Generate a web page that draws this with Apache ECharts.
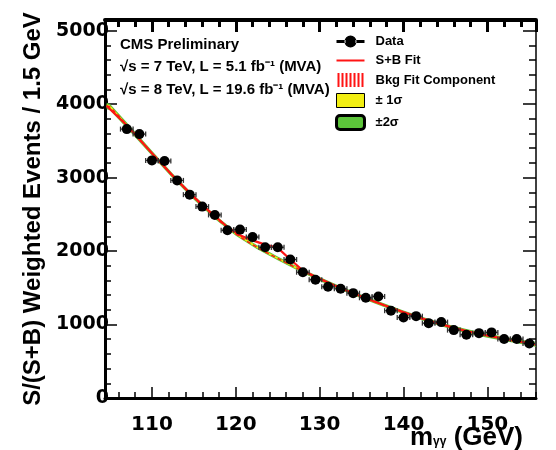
<!DOCTYPE html>
<html>
<head>
<meta charset="utf-8">
<script src="https://cdn.jsdelivr.net/npm/echarts@6/dist/echarts.min.js"></script>
<style>
html,body{margin:0;padding:0;background:#fff;}
#chart{width:556px;height:450px;}
</style>
</head>
<body>
<div id="chart"></div>
<script>
// ---- data ----
const massCenters = [107, 108.5, 110, 111.5, 113, 114.5, 116, 117.5, 119, 120.5, 122, 123.5, 125, 126.5, 128, 129.5, 131, 132.5, 134, 135.5, 137, 138.5, 140, 141.5, 143, 144.5, 146, 147.5, 149, 150.5, 152, 153.5, 155];
const dataEvents = [3660, 3592, 3234, 3226, 2962, 2768, 2605, 2492, 2283, 2292, 2190, 2052, 2052, 1885, 1712, 1610, 1514, 1486, 1427, 1364, 1382, 1188, 1096, 1114, 1019, 1033, 924, 861, 883, 893, 802, 802, 743];
const binHalfWidth = 0.75;

const bkgMass = [104.6, 105, 107.5, 110, 112.5, 115, 117.5, 120, 122.5, 125, 127.5, 130, 132.5, 135, 137.5, 140, 142.5, 145, 147.5, 150, 152.5, 155, 155.8];
const bkgEvents = [3975, 3960, 3650, 3330, 3020, 2730, 2465, 2235, 2055, 1900, 1755, 1620, 1495, 1380, 1270, 1165, 1070, 985, 910, 850, 795, 745, 731];
const band1Half = [22, 21, 19, 17, 16, 15, 14, 14, 13, 13, 13, 13, 13, 13, 13, 13, 13, 13, 14, 14, 15, 16, 17];
const band2Half = [44, 42, 38, 34, 32, 30, 28, 27, 26, 26, 26, 26, 26, 26, 26, 26, 26, 27, 28, 29, 30, 32, 34];

const sbMass = [104.6, 107, 110, 113, 116, 119, 120.5, 122, 123.5, 125, 126.5, 128, 129.5, 132.5, 135.5, 138.5, 141.5, 144.5, 147.5, 150.5, 153.5, 155.8];
const sbEvents = [3975, 3712, 3330, 2962, 2625, 2327, 2215, 2145, 2088, 2043, 1885, 1735, 1650, 1495, 1358, 1228, 1108, 1002, 910, 839, 775, 731];

const xMin = 104.4, xMax = 155.8;
const yMin = 0, yMax = 5145;

const textLines = ['CMS Preliminary', '\u221As = 7 TeV, L = 5.1 fb\u207B\u00B9 (MVA)', '\u221As = 8 TeV, L = 19.6 fb\u207B\u00B9 (MVA)'];
const legendNames = ['Data', 'S+B Fit', 'Bkg Fit Component', '\u00B1 1\u03C3', '\u00B12\u03C3'];
const yTitle = 'S/(S+B) Weighted Events / 1.5 GeV';
const xTitle = '{m|m}{sub|\u03B3\u03B3}{m| (GeV)}';

// ---- chart ----
const RED = '#ff1414', YELLOW = '#f2ee12', GREEN = '#5cc43a';
const NARROW = '"Liberation Sans Narrow", "Liberation Sans", Arial, sans-serif';
const WIDE = '"DejaVu Sans", sans-serif';

const chart = echarts.init(document.getElementById('chart'), null, {renderer: 'canvas'});

function bandSeries(name, halfArr, color, z) {
  return {
    name: name, type: 'custom', z: z, clip: true, silent: true,
    itemStyle: {color: color},
    data: [[bkgMass[0], bkgEvents[0]]],
    renderItem: function (params, api) {
      const up = [], lo = [];
      for (let i = 0; i < bkgMass.length; i++) {
        up.push(api.coord([bkgMass[i], bkgEvents[i] + halfArr[i]]));
        lo.push(api.coord([bkgMass[i], bkgEvents[i] - halfArr[i]]));
      }
      return {type: 'polygon', shape: {points: up.concat(lo.reverse())}, style: {fill: color}};
    }
  };
}

const dataPairs = massCenters.map((m, i) => [m, dataEvents[i]]);

const commonX = {type: 'value', min: xMin, max: xMax, gridIndex: 0};
const commonY = {type: 'value', min: yMin, max: yMax, gridIndex: 0};
const plain = v => String(Math.round(v));

const option = {
  animation: false,
  backgroundColor: '#fff',
  grid: {left: 105, right: 20, top: 20, bottom: 52, containLabel: false, outerBoundsMode: 'none'},
  title: [
    {text: textLines[0], left: 120, top: 37, padding: 0, textStyle: {fontFamily: NARROW, fontSize: 15, fontWeight: 'bold', color: '#000'}},
    {text: textLines[1], left: 120, top: 59, padding: 0, textStyle: {fontFamily: NARROW, fontSize: 15, fontWeight: 'bold', color: '#000'}},
    {text: textLines[2], left: 120, top: 82, padding: 0, textStyle: {fontFamily: NARROW, fontSize: 15, fontWeight: 'bold', color: '#000'}}
  ],
  graphic: [
    {type: 'text', right: 33, top: 425, z: 10, silent: true,
      style: {text: xTitle, fill: '#000',
        rich: {
          m: {fontFamily: NARROW, fontSize: 26, fontWeight: 'bold', fill: '#000', lineHeight: 26},
          sub: {fontFamily: NARROW, fontSize: 12, fontWeight: 'bold', fill: '#000', padding: [8, 0, 0, 0], lineHeight: 26}
        }}}
  ],
  legend: {
    orient: 'vertical', left: 335, top: 35, itemWidth: 28, itemHeight: 14, itemGap: 6, padding: 0,
    selectedMode: false,
    textStyle: {fontFamily: NARROW, fontSize: 13, fontWeight: 'bold', color: '#000', padding: [0, 0, 0, 6]},
    data: [
      {name: legendNames[0], icon: 'path://M0,5.5h9v3h-9z M19,5.5h9v3h-9z M8,7a6,6 0 1,0 12,0a6,6 0 1,0 -12,0z', itemStyle: {color: '#000'}},
      {name: legendNames[1], icon: 'path://M0,0h28v2h-28z', itemStyle: {color: RED}},
      {name: legendNames[2], icon: 'path://M0,0h2v14h-2z M4,0h2v14h-2z M8,0h2v14h-2z M12,0h2v14h-2z M16,0h2v14h-2z M20,0h2v14h-2z M24,0h2v14h-2z', itemStyle: {color: RED}},
      {name: legendNames[3], icon: 'rect', itemStyle: {color: YELLOW, borderColor: '#000', borderWidth: 1}},
      {name: legendNames[4], icon: 'roundRect', itemStyle: {color: GREEN, borderColor: '#000', borderWidth: 3}}
    ]
  },
  xAxis: [
    Object.assign({}, commonX, {
      position: 'bottom', splitNumber: 5,
      axisLine: {show: true, onZero: false, lineStyle: {color: '#000', width: 3}},
      axisTick: {show: true, inside: true, length: 11, lineStyle: {color: '#000', width: 1.5}},
      axisLabel: {show: true, margin: 17, showMinLabel: false, showMaxLabel: false, formatter: plain, fontFamily: WIDE, fontSize: 20, fontWeight: 'bold', color: '#000'},
      splitLine: {show: false}
    }),
    Object.assign({}, commonX, {
      position: 'bottom', splitNumber: 26,
      axisLine: {show: false, onZero: false},
      axisTick: {show: true, inside: true, length: 6, lineStyle: {color: '#000', width: 1.5}},
      axisLabel: {show: false}, splitLine: {show: false}
    }),
    Object.assign({}, commonX, {
      position: 'top', splitNumber: 5,
      axisLine: {show: true, onZero: false, lineStyle: {color: '#000', width: 4}},
      axisTick: {show: true, inside: true, length: 12, lineStyle: {color: '#000', width: 3}},
      axisLabel: {show: false}, splitLine: {show: false}
    }),
    Object.assign({}, commonX, {
      position: 'top', splitNumber: 26,
      axisLine: {show: false, onZero: false},
      axisTick: {show: true, inside: true, length: 7, lineStyle: {color: '#000', width: 3}},
      axisLabel: {show: false}, splitLine: {show: false}
    })
  ],
  yAxis: [
    Object.assign({}, commonY, {
      position: 'left', interval: 1000,
      name: yTitle, nameLocation: 'middle', nameGap: 55,
      nameTextStyle: {fontFamily: NARROW, fontSize: 24, fontWeight: 'bold', color: '#000'},
      axisLine: {show: true, onZero: false, lineStyle: {color: '#000', width: 3}},
      axisTick: {show: true, inside: true, length: 12, lineStyle: {color: '#000', width: 1.5}},
      axisLabel: {show: true, margin: -4, showMaxLabel: false, formatter: plain, fontFamily: WIDE, fontSize: 19, fontWeight: 'bold', color: '#000'},
      splitLine: {show: false}
    }),
    Object.assign({}, commonY, {
      position: 'left', interval: 200,
      axisLine: {show: false, onZero: false},
      axisTick: {show: true, inside: true, length: 6, lineStyle: {color: '#000', width: 1.5}},
      axisLabel: {show: false}, splitLine: {show: false}
    }),
    Object.assign({}, commonY, {
      position: 'right', interval: 1000,
      axisLine: {show: true, onZero: false, lineStyle: {color: '#000', width: 1.5}},
      axisTick: {show: true, inside: true, length: 13, lineStyle: {color: '#000', width: 1.5}},
      axisLabel: {show: false}, splitLine: {show: false}
    }),
    Object.assign({}, commonY, {
      position: 'right', interval: 200,
      axisLine: {show: false, onZero: false},
      axisTick: {show: true, inside: true, length: 7, lineStyle: {color: '#000', width: 1.5}},
      axisLabel: {show: false}, splitLine: {show: false}
    })
  ],
  series: [
    bandSeries(legendNames[4], band2Half, GREEN, 1),
    bandSeries(legendNames[3], band1Half, YELLOW, 2),
    {
      name: legendNames[2], type: 'line', z: 3, smooth: 0.4, symbol: 'none', silent: true,
      data: bkgMass.map((m, i) => [m, bkgEvents[i]]),
      itemStyle: {color: RED},
      lineStyle: {color: RED, width: 1.5, type: [4, 3]}
    },
    {
      name: legendNames[1], type: 'line', z: 4, smooth: false, symbol: 'none', silent: true,
      data: sbMass.map((m, i) => [m, sbEvents[i]]),
      itemStyle: {color: RED},
      lineStyle: {color: RED, width: 2.2}
    },
    {
      name: 'errors', type: 'custom', z: 5, silent: true,
      data: dataPairs,
      renderItem: function (params, api) {
        const x = api.value(0), y = api.value(1);
        const p0 = api.coord([x - binHalfWidth, y]);
        const p1 = api.coord([x + binHalfWidth, y]);
        const cap = 2.5;
        const st = {stroke: '#333', lineWidth: 1.3};
        return {type: 'group', children: [
          {type: 'line', shape: {x1: p0[0], y1: p0[1], x2: p1[0], y2: p1[1]}, style: st},
          {type: 'line', shape: {x1: p0[0], y1: p0[1] - cap, x2: p0[0], y2: p0[1] + cap}, style: st},
          {type: 'line', shape: {x1: p1[0], y1: p1[1] - cap, x2: p1[0], y2: p1[1] + cap}, style: st}
        ]};
      }
    },
    {
      name: legendNames[0], type: 'scatter', z: 6, silent: true,
      symbol: 'circle', symbolSize: 10,
      itemStyle: {color: '#000', opacity: 1},
      data: dataPairs
    }
  ]
};
chart.setOption(option);
</script>
</body>
</html>
